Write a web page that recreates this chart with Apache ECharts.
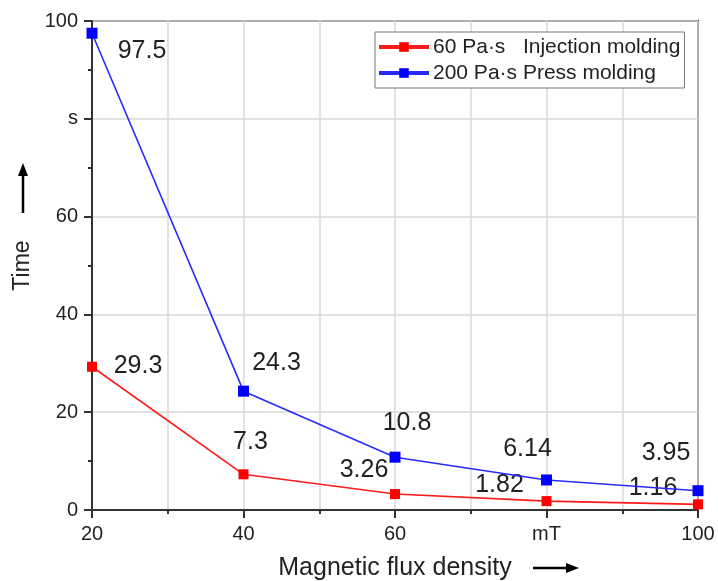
<!DOCTYPE html>
<html>
<head>
<meta charset="utf-8">
<script src="https://cdn.jsdelivr.net/npm/echarts@6/dist/echarts.min.js"></script>
<style>
  html, body { margin: 0; padding: 0; background: #fff; }
  #chart { width: 718px; height: 581px; }
</style>
</head>
<body>
<div id="chart"></div>
<script>
// data
var fluxDensity = [20, 40, 60, 80, 100]
var injection60 = [29.3, 7.3, 3.26, 1.82, 1.16]
var press200 = [97.5, 24.3, 10.8, 6.14, 3.95]
var seriesNames = ['60 Pa\u00b7s   Injection molding', '200 Pa\u00b7s Press molding']
var xTickLabels = { 20: '20', 40: '40', 60: '60', 80: 'mT', 100: '100' }
var yTickLabels = { 0: '0', 20: '20', 40: '40', 60: '60', 80: 's', 100: '100' }

// label placement, pixels from each marker
var redLabelOffset = [[46, -1], [7, -32], [-31, -24], [-47, -16], [-45, -16]]
var blueLabelOffset = [[50, 18], [33, -28], [12, -34], [-19, -31], [-32, -38]]

var font = 'Liberation Sans, Arial, sans-serif'

function buildData(values, offsets) {
    return values.map(function (v, i) {
        return {
            value: [fluxDensity[i], v],
            label: { offset: offsets[i] }
        }
    })
}

var chart = echarts.init(document.getElementById('chart'))

var labelStyle = {
    show: true,
    position: 'inside',
    align: 'center',
    verticalAlign: 'middle',
    fontFamily: font,
    fontSize: 25,
    color: '#222',
    formatter: function (p) { return String(p.value[1]) }
}

var option = {
    animation: false,
    backgroundColor: '#fff',
    grid: {
        left: 92, right: 20, top: 21, bottom: 71,
        outerBoundsMode: 'none',
        containLabel: false,
        show: true,
        borderColor: '#333',
        borderWidth: 2,
        backgroundColor: 'transparent'
    },
    legend: {
        left: 375,
        top: 32,
        orient: 'vertical',
        align: 'left',
        backgroundColor: '#fff',
        borderColor: '#777',
        borderWidth: 1,
        borderRadius: 0,
        padding: [3, 4, 3, 2],
        itemGap: 2,
        itemWidth: 50,
        itemHeight: 12,
        lineStyle: { width: 4 },
        textStyle: { fontFamily: font, fontSize: 21, color: '#222', lineHeight: 24, padding: [0, 0, 0, -1] },
        data: seriesNames
    },
    xAxis: {
        type: 'value',
        min: 20,
        max: 100,
        interval: 20,
        name: 'Magnetic flux density',
        nameLocation: 'middle',
        nameGap: 46,
        nameTextStyle: { fontFamily: font, fontSize: 25, color: '#222' },
        axisLine: { lineStyle: { color: '#333', width: 2 } },
        axisTick: { length: 8, lineStyle: { color: '#333', width: 2 } },
        minorTick: { show: true, splitNumber: 2, length: 4, lineStyle: { color: '#333', width: 2 } },
        splitLine: { show: true, lineStyle: { color: '#d9d9d9', width: 1.5 } },
        minorSplitLine: { show: true, lineStyle: { color: '#d9d9d9', width: 1.5 } },
        axisLabel: {
            margin: 14,
            fontFamily: font, fontSize: 20, color: '#222',
            formatter: function (v) { return xTickLabels[v] }
        }
    },
    yAxis: {
        type: 'value',
        min: 0,
        max: 100,
        interval: 20,
        name: 'Time',
        nameLocation: 'middle',
        nameRotate: 90,
        nameGap: 57,
        nameTextStyle: { fontFamily: font, fontSize: 23, color: '#222' },
        axisLine: { show: true, lineStyle: { color: '#333', width: 2 } },
        axisTick: { show: true, length: 8, lineStyle: { color: '#333', width: 2 } },
        minorTick: { show: true, splitNumber: 2, length: 4, lineStyle: { color: '#333', width: 2 } },
        splitLine: { show: true, lineStyle: { color: '#d9d9d9', width: 1.5 } },
        axisLabel: {
            margin: 14,
            fontFamily: font, fontSize: 20, color: '#222',
            formatter: function (v) { return yTickLabels[v] }
        }
    },
    graphic: [
        // arrow beside "Time"
        { type: 'line', shape: { x1: 23, y1: 213, x2: 23, y2: 172 }, style: { stroke: '#000', lineWidth: 2.5 } },
        { type: 'polygon', shape: { points: [[23, 163], [18, 176], [28, 176]] }, style: { fill: '#000' } },
        // arrow after "Magnetic flux density"
        { type: 'line', shape: { x1: 533, y1: 568, x2: 570, y2: 568 }, style: { stroke: '#000', lineWidth: 2.5 } },
        { type: 'polygon', shape: { points: [[579, 568], [566, 563], [566, 573]] }, style: { fill: '#000' } }
    ],
    series: [
        {
            name: seriesNames[0],
            type: 'line',
            data: buildData(injection60, redLabelOffset),
            symbol: 'rect',
            symbolSize: 10,
            lineStyle: { color: '#ff1a1a', width: 1.6 },
            itemStyle: { color: '#ff0000' },
            label: labelStyle,
            z: 3
        },
        {
            name: seriesNames[1],
            type: 'line',
            data: buildData(press200, blueLabelOffset),
            symbol: 'rect',
            symbolSize: 11,
            lineStyle: { color: '#2a2aff', width: 1.6 },
            itemStyle: { color: '#0000ff' },
            label: labelStyle,
            z: 4
        }
    ]
}

chart.setOption(option)
</script>
</body>
</html>
